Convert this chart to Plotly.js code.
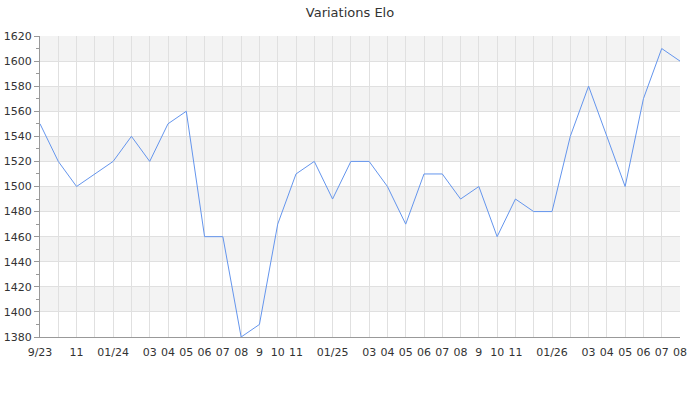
<!DOCTYPE html>
<html>
<head>
<meta charset="utf-8">
<script src="https://cdn.plot.ly/plotly-3.0.1.min.js"></script>
<style>html,body{margin:0;padding:0;background:#fff;}#chart{width:700px;height:400px;}</style>
</head>
<body>
<div id="chart"></div>
<script>
const months = ["2023-09","2023-10","2023-11","2023-12","2024-01","2024-02","2024-03","2024-04","2024-05","2024-06","2024-07","2024-08","2024-09","2024-10","2024-11","2024-12","2025-01","2025-02","2025-03","2025-04","2025-05","2025-06","2025-07","2025-08","2025-09","2025-10","2025-11","2025-12","2026-01","2026-02","2026-03","2026-04","2026-05","2026-06","2026-07","2026-08"];
const tickLabels = ["9/23","","11","","01/24","","03","04","05","06","07","08","9","10","11","","01/25","","03","04","05","06","07","08","9","10","11","","01/26","","03","04","05","06","07","08"];
const elo = [1550,1520,1500,1510,1520,1540,1520,1550,1560,1460,1460,1380,1390,1470,1510,1520,1490,1520,1520,1500,1470,1510,1510,1490,1500,1460,1490,1480,1480,1540,1580,1540,1500,1570,1610,1600];
const yTicks = [1380,1400,1420,1440,1460,1480,1500,1520,1540,1560,1580,1600,1620];

const shapes = [];
for (let i = yTicks.length - 1; i > 0; i -= 2) {
  shapes.push({type:'rect', xref:'paper', yref:'y', x0:0, x1:1, y0:yTicks[i-1], y1:yTicks[i], fillcolor:'#f3f3f3', line:{width:0}, layer:'below'});
}

const font = {family:'DejaVu Sans, sans-serif', size:11, color:'#333'};
Plotly.newPlot('chart', [{
  x: months, y: elo, type:'scatter', mode:'lines',
  line:{color:'#6495ed', width:1}, hoverinfo:'x+y'
}], {
  width:700, height:400,
  margin:{l:40, r:20, t:36, b:63},
  paper_bgcolor:'#fff', plot_bgcolor:'rgba(0,0,0,0)',
  font: font,
  title:{text:'Variations Elo', font:{family:'DejaVu Sans, sans-serif', size:13, color:'#333'}, x:0.5, xanchor:'center', yref:'container', y:0.97, yanchor:'middle'},
  showlegend:false,
  shapes: shapes,
  xaxis:{type:'category', tickmode:'array', tickvals:months, ticktext:tickLabels,
    range:[0, months.length-1], showgrid:true, gridcolor:'#e0e0e0', gridwidth:1,
    showline:true, linecolor:'#999', linewidth:1, ticks:'', tickangle:0, ticklabelstandoff:5, zeroline:false, tickfont:font, layer:'below traces'},
  yaxis:{range:[1380,1620], tickmode:'array', tickvals:yTicks, showgrid:true, gridcolor:'#e0e0e0', gridwidth:1,
    showline:true, linecolor:'#999', linewidth:1, ticks:'outside', ticklen:5, tickcolor:'#999',
    minor:{dtick:10, tick0:1380, ticks:'outside', ticklen:3, tickcolor:'#999', showgrid:false},
    zeroline:false, tickfont:font}
}, {displayModeBar:false, staticPlot:true});
</script>
</body>
</html>
